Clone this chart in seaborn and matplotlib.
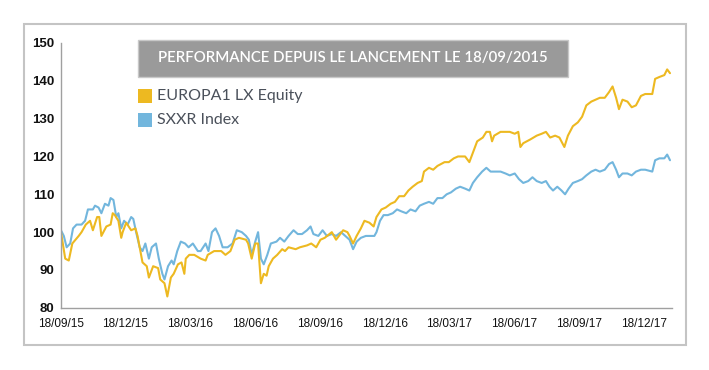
import pandas as pd
import numpy as np
import matplotlib
matplotlib.use("Agg")
import matplotlib.pyplot as plt
import matplotlib.dates as mdates
from matplotlib.patches import Rectangle
import seaborn as sns

# Data (days since launch 18/09/2015, index value)
fund_days = [0, 6, 11, 16, 25, 29, 35, 41, 45, 51, 54, 57, 64, 70, 73, 76, 81, 85, 87, 92,
             99, 105, 108, 115, 121, 124, 130, 137, 140, 146, 150, 155, 159, 165, 170, 174, 176, 181, 188, 197,
             204, 207, 216, 226, 232, 239, 245, 251, 261, 264, 269, 274, 278, 282, 286, 290, 293, 299, 305, 312,
             316, 321, 331, 337, 347, 353, 360, 366, 372, 382, 388, 398, 404, 407, 412, 417, 423, 428, 435, 441,
             445, 452, 458, 465, 471, 477, 484, 490, 496, 503, 509, 512, 519, 525, 531, 541, 547, 554, 560, 570,
             576, 581, 587, 595, 600, 605, 608, 611, 620, 627, 633, 640, 645, 648, 652, 662, 671, 678, 684, 690,
             697, 703, 710, 715, 722, 729, 735, 741, 748, 754, 760, 767, 773, 778, 783, 787, 792, 799, 805, 811,
             818, 824, 834, 838, 844, 851, 855, 859]
fund_values = [100, 93, 92.5, 97, 99, 100, 102, 103, 100.5, 104, 104, 99, 101.5, 102, 105, 104.5, 103, 98.5, 100, 102.5,
               100.5, 101, 99, 92, 91, 88, 91, 90.5, 87.5, 86.5, 83, 88, 89, 91.5, 92, 89, 93, 94, 94, 93,
               92.5, 94, 95, 95, 94, 95, 98, 98.5, 98, 97, 93, 97, 97, 86.5, 89, 88.5, 91, 93, 94, 95.5,
               95, 96, 95.5, 96, 96.5, 97, 96, 98, 98.5, 100, 98, 100.5, 100, 99, 97, 99, 101, 103, 102.5, 101.5,
               104, 106, 106.5, 107.5, 108, 109.5, 109.5, 111, 112, 113, 113.5, 116, 117, 116.5, 117.5, 118.5, 118.5, 119.5, 120, 120,
               118.5, 121, 124, 125, 126.5, 126.5, 124, 125.5, 126.5, 126.5, 126.5, 126, 126.5, 122.5, 123.5, 124.5, 125.5, 126, 126.5, 125,
               125.5, 125, 122.5, 125.5, 128, 129, 130.5, 133.5, 134.5, 135, 135.5, 135.5, 137, 138.5, 135.5, 132.5, 135, 134.5, 133, 133.5,
               136, 136.5, 136.5, 140.5, 141, 141.5, 143, 142]

index_days = [0, 4, 8, 13, 17, 22, 29, 34, 38, 45, 48, 53, 57, 62, 67, 70, 74, 78, 81, 85,
              89, 94, 99, 102, 106, 111, 115, 119, 124, 128, 134, 138, 143, 146, 151, 156, 159, 164, 169, 175,
              180, 186, 193, 197, 204, 208, 213, 218, 223, 228, 235, 242, 248, 255, 261, 265, 269, 274, 278, 282,
              286, 291, 296, 304, 309, 315, 321, 328, 334, 340, 347, 352, 356, 363, 369, 375, 382, 388, 395, 401,
              407, 412, 417, 423, 430, 436, 442, 445, 450, 455, 461, 468, 474, 480, 487, 493, 500, 506, 512, 519,
              525, 531, 538, 544, 550, 557, 563, 570, 576, 581, 587, 594, 600, 606, 614, 620, 627, 633, 640, 646,
              652, 659, 665, 671, 678, 684, 689, 694, 700, 706, 711, 716, 722, 729, 735, 741, 748, 754, 760, 767,
              773, 778, 783, 787, 792, 799, 805, 811, 818, 824, 834, 838, 844, 851, 855, 859]
index_values = [100.5, 99, 96, 97, 101, 102, 102, 103, 106, 106, 107, 106.5, 105, 107.5, 107, 109, 108.5, 104, 105, 101,
                103, 102, 104, 103.5, 100, 96, 95, 97, 93, 96, 97, 93, 89, 87.5, 91, 92.5, 91.5, 95, 97.5, 97,
                96, 97, 95, 95, 97, 95, 100, 101, 99, 96, 96, 97, 100.5, 100, 99, 98, 94, 97.5, 100, 93,
                91.5, 94, 97, 97.5, 98.5, 97.5, 99, 100.5, 99.5, 99.5, 100.5, 101.5, 99.5, 99, 100.5, 99, 99.5, 99, 100, 99,
                98, 95.5, 97.5, 98.5, 99, 99, 99, 100, 103, 104.5, 104.5, 105, 106, 105.5, 105, 106, 105.5, 107, 107.5, 108,
                107.5, 109, 109, 110, 110.5, 111.5, 112, 111.5, 111, 113, 114.5, 116, 117, 116, 116, 116, 115.5, 115, 115.5, 114,
                113, 113.5, 114.5, 113.5, 113, 113.5, 112, 111, 112, 111, 110, 111.5, 113, 113.5, 114, 115, 116, 116.5, 116, 116.5,
                118, 118.5, 116.5, 114.5, 115.5, 115.5, 115, 116, 116.5, 116.5, 116, 119, 119.5, 119.5, 120.5, 119]

series_names = ["EUROPA1 LX Equity", "SXXR Index"]
series_colors = ["#EDB921", "#72B6DD"]
tick_dates = ["2015-09-18", "2015-12-18", "2016-03-18", "2016-06-18", "2016-09-18",
              "2016-12-18", "2017-03-18", "2017-06-18", "2017-09-18", "2017-12-18"]
title = "PERFORMANCE DEPUIS LE LANCEMENT LE 18/09/2015"

start = pd.Timestamp("2015-09-18")
df = pd.concat([
    pd.DataFrame({"date": start + pd.to_timedelta(fund_days, unit="D"),
                  "value": fund_values, "series": series_names[0]}),
    pd.DataFrame({"date": start + pd.to_timedelta(index_days, unit="D"),
                  "value": index_values, "series": series_names[1]}),
])

sns.set_style("white")
plt.rcParams["font.family"] = ["Liberation Sans", "DejaVu Sans"]

fig = plt.figure(figsize=(7.09, 3.70), dpi=100)
ax = fig.add_axes([0.086, 0.168, 0.862, 0.716])

palette = dict(zip(series_names, series_colors))
sns.lineplot(data=df, x="date", y="value", hue="series", palette=palette,
             hue_order=series_names[::-1], linewidth=1.5, legend=False, ax=ax)

ax.set_ylim(80, 150)
ax.set_yticks(range(80, 151, 10))
ax.set_xlim(start, start + pd.Timedelta(days=862))
ax.set_xticks(pd.to_datetime(tick_dates))
ax.xaxis.set_major_formatter(mdates.DateFormatter("%d/%m/%y"))
ax.set_xlabel("")
ax.set_ylabel("")

for side in ["top", "right"]:
    ax.spines[side].set_visible(False)
for side in ["left", "bottom"]:
    ax.spines[side].set_color("#a0a0a0")
    ax.spines[side].set_linewidth(1.0)
ax.tick_params(axis="both", direction="out", length=3, width=0.8, color="#a0a0a0",
               labelcolor="#111111")
ax.tick_params(axis="y", pad=2)
ax.tick_params(axis="x", pad=4)
for lab in ax.get_yticklabels():
    lab.set_fontsize(9.5)
    lab.set_fontweight("bold")
for lab in ax.get_xticklabels():
    lab.set_fontsize(8.5)

# outer frame
fig.patches.append(Rectangle((0.034, 0.068), 0.934, 0.867, transform=fig.transFigure,
                             fill=False, edgecolor="#c4c4c4", linewidth=1.5))

# title banner
fig.patches.append(Rectangle((0.195, 0.792), 0.606, 0.100, transform=fig.transFigure,
                             facecolor="#9a9a9a", edgecolor="#c8c8c8", linewidth=1.0))
fig.text(0.498, 0.842, title, color="white", fontsize=10.8, ha="center", va="center",
         family=["Lato", "DejaVu Sans"], fontweight="semibold")

# legend
for i, (name, col) in enumerate(zip(series_names, series_colors)):
    y = 0.741 - i * 0.065
    fig.patches.append(Rectangle((0.195, y - 0.019), 0.019, 0.038, transform=fig.transFigure,
                                 facecolor=col, edgecolor="none"))
    fig.text(0.222, y, name, color="#4a505a", fontsize=11.5, ha="left", va="center",
             family=["Lato", "DejaVu Sans"])

fig.savefig("out.png", dpi=100)
